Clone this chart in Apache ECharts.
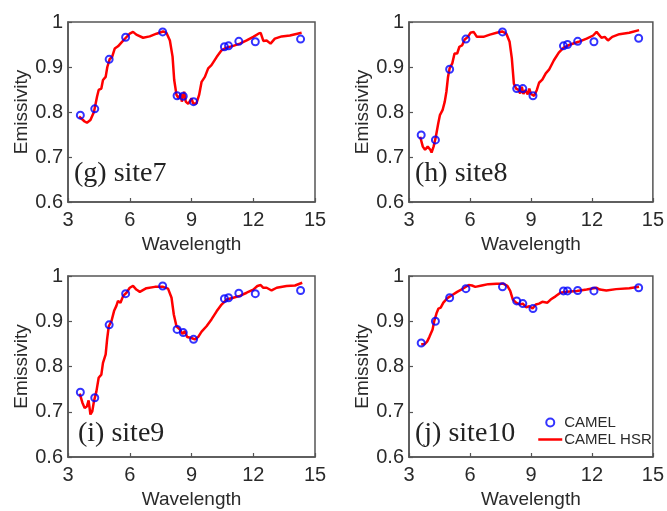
<!DOCTYPE html>
<html>
<head>
<meta charset="utf-8">
<script src="https://cdn.jsdelivr.net/npm/echarts@6/dist/echarts.min.js"></script>
<style>
html,body{margin:0;padding:0;background:#fff;}
#chart{width:667px;height:511px;}
</style>
</head>
<body>
<div id="chart"></div>
<script>
// ---- data ----
const panelLabels = ['(g) site7', '(h) site8', '(i) site9', '(j) site10'];
const xTicks = [3, 6, 9, 12, 15];
const yTicks = [0.6, 0.7, 0.8, 0.9, 1];

const wavelengthCAMEL = [3.6, 4.3, 5.0, 5.8, 7.6, 8.3, 8.6, 9.1, 10.6, 10.8, 11.3, 12.1, 14.3];
const camelSite7  = [0.793, 0.807, 0.917, 0.966, 0.978, 0.836, 0.835, 0.823, 0.945, 0.947, 0.957, 0.956, 0.962];
const camelSite8  = [0.749, 0.738, 0.895, 0.962, 0.978, 0.852, 0.852, 0.836, 0.947, 0.950, 0.957, 0.956, 0.964];
const camelSite9  = [0.743, 0.731, 0.892, 0.961, 0.978, 0.882, 0.875, 0.860, 0.950, 0.952, 0.962, 0.961, 0.968];
const camelSite10 = [0.852, 0.900, 0.952, 0.972, 0.976, 0.945, 0.939, 0.928, 0.967, 0.967, 0.968, 0.967, 0.974];

const hsrWavelength7 = [3.54,3.81,3.92,4.09,4.26,4.41,4.49,4.62,4.70,4.83,4.91,5.03,5.14,5.27,5.43,5.59,5.81,6.0,6.16,6.32,6.65,6.97,7.3,7.62,7.78,7.95,8.08,8.16,8.27,8.38,8.48,8.53,8.64,8.72,8.84,9.0,9.08,9.24,9.37,9.49,9.65,9.81,9.97,10.22,10.46,10.7,11.03,11.35,11.68,12.0,12.25,12.36,12.49,12.65,12.84,13.05,13.38,13.78,14.35];
const hsrSite7 = [0.790,0.779,0.776,0.782,0.800,0.834,0.849,0.852,0.871,0.878,0.900,0.918,0.922,0.941,0.946,0.954,0.965,0.974,0.978,0.972,0.965,0.968,0.974,0.979,0.976,0.959,0.923,0.871,0.838,0.830,0.841,0.823,0.845,0.823,0.818,0.830,0.819,0.819,0.838,0.867,0.878,0.897,0.904,0.922,0.937,0.943,0.947,0.952,0.959,0.967,0.974,0.976,0.958,0.959,0.952,0.963,0.968,0.970,0.976];

const hsrWavelength8 = [3.55,3.68,3.79,3.92,4.05,4.11,4.21,4.32,4.44,4.52,4.65,4.76,4.84,4.92,5.0,5.13,5.24,5.37,5.48,5.61,5.74,5.9,6.02,6.18,6.34,6.66,6.98,7.31,7.58,7.79,7.95,8.06,8.16,8.27,8.39,8.47,8.55,8.63,8.73,8.84,8.92,9.0,9.16,9.29,9.4,9.56,9.73,9.89,10.13,10.37,10.61,10.94,11.34,11.74,12.06,12.23,12.31,12.47,12.63,12.79,13.0,13.35,13.84,14.32];
const hsrSite8 = [0.745,0.723,0.716,0.723,0.716,0.710,0.723,0.745,0.775,0.793,0.804,0.823,0.845,0.878,0.897,0.908,0.930,0.930,0.945,0.948,0.961,0.967,0.976,0.978,0.967,0.967,0.972,0.976,0.979,0.974,0.956,0.919,0.863,0.852,0.849,0.841,0.856,0.840,0.849,0.839,0.852,0.840,0.836,0.849,0.865,0.872,0.886,0.894,0.915,0.932,0.943,0.950,0.956,0.963,0.970,0.978,0.978,0.965,0.967,0.959,0.967,0.973,0.976,0.982];

const hsrWavelength9 = [3.57,3.7,3.81,3.92,4.0,4.09,4.18,4.26,4.38,4.49,4.62,4.7,4.83,4.9,4.98,5.11,5.24,5.35,5.43,5.55,5.68,5.84,6.0,6.16,6.32,6.49,6.81,7.22,7.62,7.86,8.03,8.14,8.27,8.43,8.56,8.68,8.79,9.0,9.16,9.32,9.49,9.73,9.97,10.22,10.46,10.7,11.03,11.35,11.68,12.0,12.2,12.36,12.49,12.65,12.89,13.14,13.62,14.03,14.38];
const hsrSite9 = [0.740,0.720,0.708,0.712,0.725,0.694,0.701,0.723,0.745,0.775,0.782,0.808,0.827,0.860,0.889,0.900,0.923,0.934,0.945,0.941,0.956,0.963,0.974,0.978,0.970,0.965,0.973,0.976,0.976,0.972,0.952,0.915,0.889,0.882,0.872,0.878,0.865,0.863,0.860,0.865,0.877,0.889,0.904,0.922,0.937,0.948,0.952,0.956,0.963,0.970,0.978,0.980,0.974,0.974,0.968,0.974,0.978,0.979,0.985];

const hsrWavelength10 = [3.6,3.76,3.89,4.0,4.16,4.24,4.35,4.45,4.56,4.69,4.89,5.13,5.37,5.69,5.94,6.1,6.26,6.58,6.9,7.31,7.63,7.84,7.98,8.11,8.27,8.44,8.6,8.76,8.92,9.08,9.24,9.4,9.56,9.81,9.97,10.21,10.45,10.77,11.26,11.74,12.23,12.39,12.71,13.19,13.84,14.32];
const hsrSite10 = [0.849,0.849,0.855,0.865,0.882,0.900,0.917,0.928,0.930,0.941,0.951,0.958,0.965,0.973,0.980,0.979,0.976,0.979,0.982,0.983,0.983,0.978,0.967,0.948,0.941,0.937,0.939,0.931,0.933,0.928,0.937,0.939,0.943,0.941,0.948,0.955,0.963,0.965,0.967,0.970,0.974,0.970,0.968,0.971,0.973,0.976];

// ---- build ----
const camelAll = [camelSite7, camelSite8, camelSite9, camelSite10];
const hsrX = [hsrWavelength7, hsrWavelength8, hsrWavelength9, hsrWavelength10];
const hsrY = [hsrSite7, hsrSite8, hsrSite9, hsrSite10];
const zip = (a, b) => a.map((v, i) => [v, b[i]]);

const grids = [
  {left: 68, top: 22, width: 247, height: 180},
  {left: 409, top: 22, width: 248, height: 180},
  {left: 68, top: 276, width: 247, height: 181},
  {left: 409, top: 276, width: 248, height: 181}
];
const labelPos = [
  {left: 74, top: 160},
  {left: 415, top: 160},
  {left: 78, top: 420},
  {left: 415, top: 420}
];

const sans = 'Liberation Sans, Arial, sans-serif';
const axisColor = '#555';
const textColor = '#2a2a2a';

const option = {
  backgroundColor: '#fff',
  animation: false,
  title: panelLabels.map((t, i) => ({
    text: t, left: labelPos[i].left, top: labelPos[i].top, padding: 0,
    textStyle: {fontFamily: 'Liberation Serif, Times New Roman, serif', fontSize: 28, fontWeight: 'normal', color: '#222'}
  })),
  legend: {
    orient: 'vertical', left: 532, top: 410,
    itemWidth: 24, itemHeight: 8, itemGap: 2,
    textStyle: {fontFamily: sans, fontSize: 15, color: textColor, padding: [0, 0, 0, -3]},
    data: [
      {name: 'CAMEL', icon: 'circle', itemStyle: {color: 'rgba(0,0,0,0)', borderColor: '#0000ff', borderWidth: 2}},
      {name: 'CAMEL HSR', itemStyle: {color: 'rgba(0,0,0,0)', borderWidth: 0, opacity: 0}, lineStyle: {color: '#ff0000', width: 2.5}}
    ]
  },
  grid: grids.map(g => Object.assign({show: true, borderColor: axisColor, borderWidth: 1.5, backgroundColor: 'transparent'}, g)),
  xAxis: grids.map((g, i) => ({
    type: 'value', gridIndex: i, min: xTicks[0], max: xTicks[xTicks.length - 1], interval: 3,
    name: 'Wavelength', nameLocation: 'middle', nameGap: 33,
    nameTextStyle: {fontFamily: sans, fontSize: 19, color: textColor},
    axisLine: {show: true, lineStyle: {color: axisColor, width: 1.5}},
    axisTick: {show: true, inside: true, length: 4, lineStyle: {color: axisColor, width: 1.2}},
    axisLabel: {fontFamily: sans, fontSize: 20, color: textColor, margin: 8},
    splitLine: {show: false}
  })),
  yAxis: grids.map((g, i) => ({
    type: 'value', gridIndex: i, min: yTicks[0], max: yTicks[yTicks.length - 1], interval: 0.1,
    name: 'Emissivity', nameLocation: 'middle', nameGap: 35,
    nameTextStyle: {fontFamily: sans, fontSize: 19, color: textColor},
    axisLine: {show: true, lineStyle: {color: axisColor, width: 1.5}},
    axisTick: {show: true, inside: true, length: 4, lineStyle: {color: axisColor, width: 1.2}},
    axisLabel: {fontFamily: sans, fontSize: 20, color: textColor, margin: 5,
      formatter: v => String(Math.round(v * 10) / 10)},
    splitLine: {show: false}
  })),
  series: []
};

for (let i = 0; i < 4; i++) {
  option.series.push({
    name: 'CAMEL HSR', type: 'line', xAxisIndex: i, yAxisIndex: i,
    data: zip(hsrX[i], hsrY[i]), symbol: 'none',
    lineStyle: {color: '#ff0000', width: 2.5}, itemStyle: {color: '#ff0000'}, z: 2
  });
  option.series.push({
    name: 'CAMEL', type: 'scatter', xAxisIndex: i, yAxisIndex: i,
    data: zip(wavelengthCAMEL, camelAll[i]), symbol: 'circle', symbolSize: 7,
    itemStyle: {color: 'rgba(0,0,0,0)', borderColor: '#0000ff', borderWidth: 2}, z: 3
  });
}

const chart = echarts.init(document.getElementById('chart'), null, {renderer: 'canvas'});
chart.setOption(option);
</script>
</body>
</html>
